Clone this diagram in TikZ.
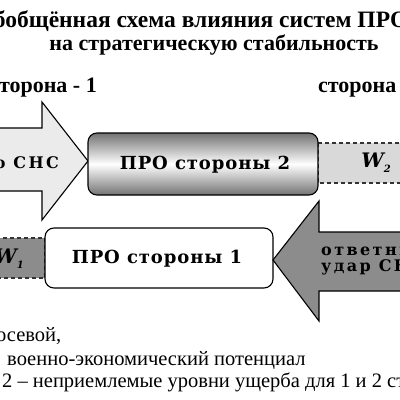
\documentclass[tikz,border=0pt]{standalone}
\usepackage{fontspec}
\setmainfont{Liberation Serif}
\newfontfamily\boxfont[LetterSpace=5]{DejaVu Serif}
\newfontfamily\wfont{DejaVu Serif}
\newfontfamily\arrowfont[LetterSpace=15]{DejaVu Serif}
\tikzset{
  titletext/.style={font=\bfseries\fontsize{22}{24}\selectfont, inner sep=0pt},
  legendtext/.style={font=\fontsize{20.5}{23}\selectfont, inner sep=0pt},
  boxtext/.style={font=\boxfont\bfseries\fontsize{18}{21}\selectfont, inner sep=0pt},
  arrowtext/.style={font=\arrowfont\bfseries\fontsize{16}{18}\selectfont, inner sep=0pt},
  wtext/.style={font=\wfont\bfseries\itshape\fontsize{20}{22}\selectfont, inner sep=0pt},
  arrowshape/.style={draw=black, line width=1.1pt, line join=miter},
  probox/.style={draw=black, line width=1.1pt, rounded corners=9pt},
  wbox/.style={draw=black!80, line width=1.1pt, dashed, dash pattern=on 4pt off 3pt},
}
\begin{document}
\begin{tikzpicture}[x=1pt,y=-1pt]
\useasboundingbox (0,0) rectangle (400,400);
\clip (0,0) rectangle (400,400);
% title
\node[titletext, anchor=base, font=\bfseries\fontsize{23.5}{25}\selectfont] (t1) at (192,27) {Обобщённая схема влияния систем ПРО};
\node[titletext, anchor=base] (t2) at (214,50) {на стратегическую стабильность};
\node[titletext, anchor=base east] (s1) at (97,92) {сторона - 1};
\node[titletext, anchor=base west] (s2) at (318,92) {сторона - 2};
% upper arrow (first strike)
\draw[arrowshape, fill=black!8] (-10,128) -- (42,128) -- (42,102) -- (88,161) -- (42,220) -- (42,191) -- (-10,191) -- cycle;
\node[arrowtext, anchor=base east] (a1) at (59,168) {о СНС};
% W2 box
\draw[wbox, fill=black!15] (318,143) rectangle (420,183);
\node[wtext] (w2) at (376,163) {W\raisebox{-5pt}{\fontsize{10}{11}\selectfont 2}};
% upper PRO box
\draw[probox, top color=black!55, bottom color=black!55, middle color=white] (88,133) rectangle (318,195);
\node[boxtext] (pro2) at (205,165) {ПРО стороны 2};
% W1 box
\draw[wbox, fill=black!45] (-12,238) rectangle (45,278);
\node[wtext] (w1) at (9,259) {W\raisebox{-5pt}{\fontsize{10}{11}\selectfont 1}};
% lower PRO box
\draw[probox, fill=white] (45,228) rectangle (273,288);
\node[boxtext] (pro1) at (157,259) {ПРО стороны 1};
% lower arrow (retaliation)
\draw[arrowshape, fill=black!45] (420,232) -- (319,232) -- (319,201) -- (273,260) -- (319,321) -- (319,291) -- (420,291) -- cycle;
\node[arrowtext, anchor=base west] (a2a) at (321,255) {ответный};
\node[arrowtext, anchor=base west] (a2b) at (321,271) {удар СНС};
% legend
\node[legendtext, anchor=base west] (l1) at (-4,341) {осевой,};
\node[legendtext, anchor=base west] (l2) at (7,365) {военно-экономический потенциал};
\node[legendtext, anchor=base west] (l3) at (2,387) {2 – неприемлемые уровни ущерба для 1 и 2 сторон};
\end{tikzpicture}
\end{document}
